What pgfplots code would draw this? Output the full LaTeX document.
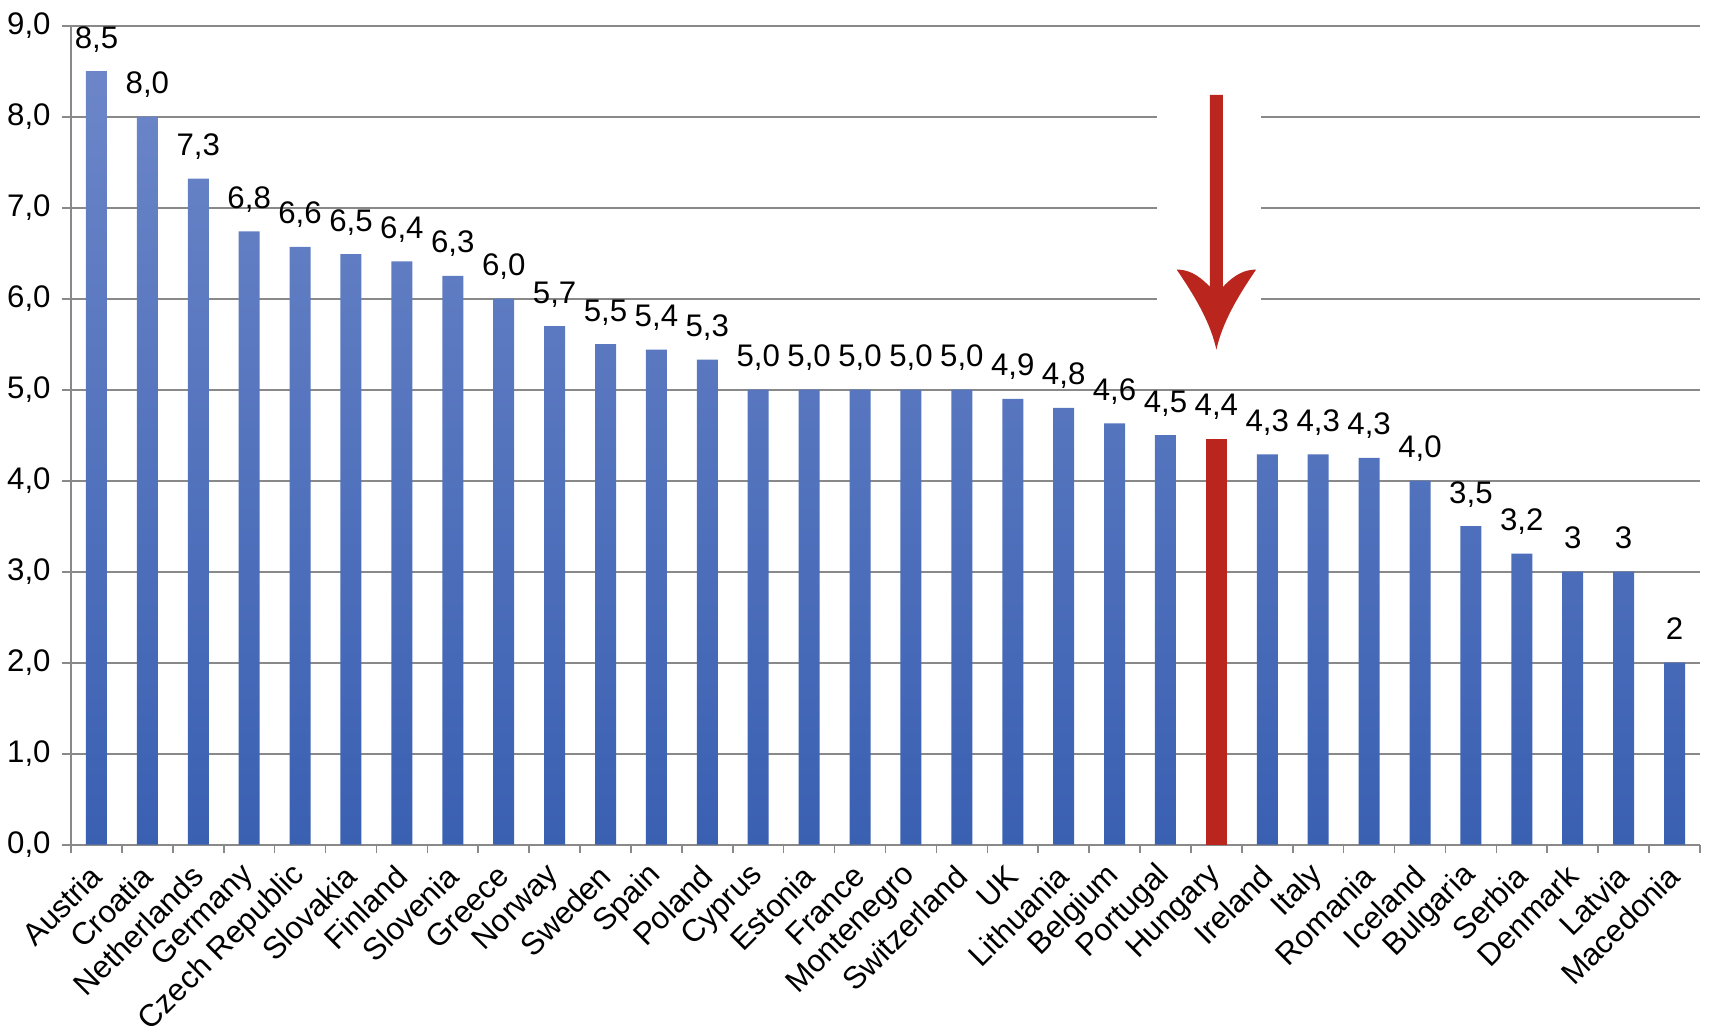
\documentclass[border=0pt]{standalone}
\usepackage{pgfplots}
\pgfplotsset{compat=1.18}
\usepackage{pgfplotstable}
\usepackage{fontspec}
\setmainfont{Liberation Sans}
\definecolor{gridgray}{RGB}{137,137,137}
\definecolor{bartop}{RGB}{108,134,200}
\definecolor{barmid}{RGB}{72,112,198}
\definecolor{barbot}{RGB}{58,96,178}
\definecolor{hured}{RGB}{186,38,29}

\pgfplotstableread{
x y lab
0 8.50 8,5
1 8.00 8,0
2 7.32 7,3
3 6.74 6,8
4 6.57 6,6
5 6.49 6,5
6 6.41 6,4
7 6.25 6,3
8 6.00 6,0
9 5.70 5,7
10 5.50 5,5
11 5.44 5,4
12 5.33 5,3
13 5.00 5,0
14 5.00 5,0
15 5.00 5,0
16 5.00 5,0
17 5.00 5,0
18 4.90 4,9
19 4.80 4,8
20 4.63 4,6
21 4.50 4,5
23 4.29 4,3
24 4.29 4,3
25 4.25 4,3
26 4.00 4,0
27 3.50 3,5
28 3.20 3,2
29 3.00 3
30 3.00 3
31 2.00 2
}\bluedata

\pgfplotstableread{
x y lab
22 4.46 4,4
}\reddata

\newcommand{\lblfont}{\fontsize{15.6}{18}\selectfont}

\begin{document}
\begin{tikzpicture}
\begin{axis}[
  at={(0,0)}, anchor=south west,
  scale only axis, width=814.5pt, height=409.5pt,
  xmin=-0.5, xmax=31.5, ymin=0, ymax=9,
  axis x line*=bottom, axis y line*=left,
  axis line style={gridgray, line width=0.8pt, -},
  ymajorgrids, grid style={gridgray, line width=0.8pt},
  ytick={0,1,...,9},
  yticklabels={{0,0},{1,0},{2,0},{3,0},{4,0},{5,0},{6,0},{7,0},{8,0},{9,0}},
  xtick={0,1,...,31},
  xticklabels={Austria,Croatia,Netherlands,Germany,Czech Republic,Slovakia,Finland,Slovenia,Greece,Norway,Sweden,Spain,Poland,Cyprus,Estonia,France,Montenegro,Switzerland,UK,Lithuania,Belgium,Portugal,Hungary,Ireland,Italy,Romania,Iceland,Bulgaria,Serbia,Denmark,Latvia,Macedonia},
  minor xtick={-0.5,0.5,...,31.5},
  tick align=outside,
  major tick length=4.5pt, minor tick length=4pt,
  tick style={gridgray, line width=0.8pt},
  major x tick style={draw=none},
  tick label style={font=\lblfont},
  yticklabel style={inner sep=0pt, xshift=-5.5pt},
  xticklabel style={anchor=east, inner sep=0pt, xshift=0pt, yshift=-8.5pt, rotate=45},
  ybar, bar width=10.5pt,
  clip=false,
]
\addplot[draw=none, bar shift=0pt, top color=bartop, middle color=barmid, bottom color=barbot,
  point meta=explicit symbolic, nodes near coords,
  every node near coord/.append style={font=\lblfont, anchor=base, inner sep=0pt, yshift=11.5pt}]
  table[x=x, y=y, meta=lab] {\bluedata};
\addplot[draw=none, fill=hured, bar shift=0pt,
  point meta=explicit symbolic, nodes near coords,
  every node near coord/.append style={font=\lblfont, anchor=base, inner sep=0pt, yshift=11.5pt}]
  table[x=x, y=y, meta=lab] {\reddata};
\fill[white] (axis cs:20.84,8.6) rectangle (axis cs:22.88,5.25);
\fill[hured] (axis cs:21.872,8.24) -- (axis cs:21.872,6.13)
  .. controls (axis cs:21.62,6.28) and (axis cs:21.42,6.32) .. (axis cs:21.22,6.32)
  .. controls (axis cs:21.55,6.05) and (axis cs:21.88,5.75) .. (axis cs:22,5.44)
  .. controls (axis cs:22.12,5.75) and (axis cs:22.45,6.05) .. (axis cs:22.78,6.32)
  .. controls (axis cs:22.58,6.32) and (axis cs:22.38,6.28) .. (axis cs:22.128,6.13)
  -- (axis cs:22.128,8.24) -- cycle;
\end{axis}
\pgfresetboundingbox
\path (-35.5pt,-95.15pt) rectangle (819pt,422.35pt);
\end{tikzpicture}
\end{document}
